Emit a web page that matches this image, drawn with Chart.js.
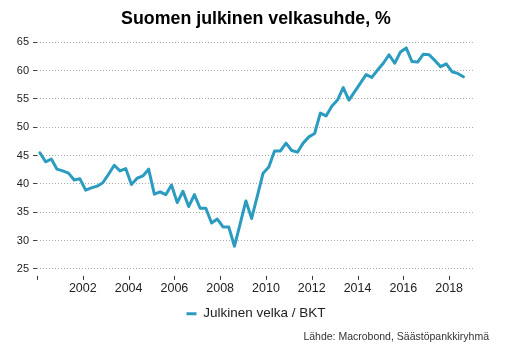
<!DOCTYPE html>
<html>
<head>
<meta charset="utf-8">
<script src="https://cdn.jsdelivr.net/npm/chart.js@4"></script>
<style>
  html, body { margin: 0; padding: 0; background: #fff; }
</style>
</head>
<body>
<canvas id="myChart" width="527" height="347"></canvas>
<script>
// julkinen velka / BKT, neljännesvuosittain 2000Q1 - 2018Q3
const firstYear = 2000;
const debtRatio = [
  45.5, 43.9, 44.4, 42.6, 42.3, 41.9, 40.7, 40.9,
  38.9, 39.3, 39.6, 40.2, 41.7, 43.3, 42.3, 42.7,
  39.9, 41.0, 41.4, 42.6, 38.2, 38.6, 38.1, 39.8,
  36.7, 38.7, 36.0, 38.1, 35.7, 35.7, 33.1, 33.8,
  32.4, 32.4, 29.0, 33.0, 37.0, 33.9, 37.9, 41.9,
  43.0, 45.8, 45.8, 47.2, 45.9, 45.6, 47.2, 48.3,
  48.9, 52.5, 52.0, 53.7, 54.8, 57.0, 54.8, 56.3,
  57.8, 59.3, 58.8, 60.1, 61.3, 62.8, 61.3, 63.3,
  64.0, 61.6, 61.5, 62.9, 62.8, 61.8, 60.7, 61.2,
  59.8, 59.5, 58.9
];
const labeledYears = [2002, 2004, 2006, 2008, 2010, 2012, 2014, 2016, 2018];
const chartTitle = 'Suomen julkinen velkasuhde, %';
const seriesName = 'Julkinen velka / BKT';
const sourceText = 'Lähde: Macrobond, Säästöpankkiryhmä';

const lineColor = '#2b9cc0';
const fontFamily = '"Liberation Sans", Arial, sans-serif';

Chart.defaults.font.family = fontFamily;
Chart.defaults.color = '#222';

const points = debtRatio.map(function (v, i) {
  return { x: firstYear + (i + 0.5) / 4, y: v };
});

// pienet pystymerkit x-akselin alle, irti kuva-alasta
const xTickMarks = {
  id: 'xTickMarks',
  afterDraw: function (chart) {
    var sx = chart.scales.x;
    var c = chart.ctx;
    var y0 = chart.chartArea.bottom + 7;
    c.save();
    c.strokeStyle = '#333';
    c.lineWidth = 1;
    sx.ticks.forEach(function (t) {
      var px = Math.round(sx.getPixelForValue(t.value)) + 0.5;
      c.beginPath();
      c.moveTo(px, y0);
      c.lineTo(px, y0 + 4);
      c.stroke();
    });
    c.restore();
  },
};

const ctx = document.getElementById('myChart');

new Chart(ctx, {
  type: 'line',
  data: {
    datasets: [
      {
        label: seriesName,
        data: points,
        borderColor: lineColor,
        backgroundColor: lineColor,
        borderWidth: 3,
        borderJoinStyle: 'round',
        borderCapStyle: 'round',
        pointRadius: 0,
        tension: 0,
      },
    ],
  },
  plugins: [xTickMarks],
  options: {
    responsive: false,
    animation: false,
    devicePixelRatio: 1,
    layout: { padding: { left: 0, right: 38, top: 0, bottom: 0 } },
    scales: {
      x: {
        type: 'linear',
        min: 2000,
        max: 2019.13,
        grid: {
          drawOnChartArea: false,
          drawTicks: true,
          tickLength: 11,
          tickColor: 'rgba(0,0,0,0)',
        },
        border: { display: false },
        ticks: {
          stepSize: 2,
          includeBounds: false,
          padding: 1,
          maxRotation: 0,
          autoSkip: false,
          font: { size: 12.5 },
          color: '#222',
          callback: function (v) {
            return labeledYears.indexOf(v) >= 0 ? String(v) : '';
          },
        },
      },
      y: {
        min: 25,
        max: 65,
        afterFit: function (s) { s.width = 37; },
        grid: {
          color: '#aaa',
          lineWidth: 1,
          tickLength: 4,
          tickColor: '#444',
        },
        border: { display: false, dash: [1, 2] },
        ticks: {
          stepSize: 5,
          padding: 4,
          font: { size: 11 },
          color: '#222',
        },
      },
      yRight: {
        position: 'right',
        afterFit: function (s) { s.width = 14; },
        grid: { display: false },
        border: { display: false },
        ticks: { display: false },
      },
    },
    plugins: {
      title: {
        display: true,
        text: chartTitle,
        fullSize: false,
        color: '#000',
        font: { size: 17.8, weight: 'bold' },
        padding: { top: 8, bottom: 12.9 },
      },
      subtitle: {
        display: true,
        text: sourceText,
        position: 'bottom',
        align: 'end',
        color: '#333',
        font: { size: 10.5 },
        padding: { top: 0, bottom: 4 },
      },
      legend: {
        position: 'bottom',
        fullSize: false,
        labels: {
          boxWidth: 10,
          boxHeight: 3,
          padding: 10,
          color: '#222',
          font: { size: 13.5 },
          generateLabels: function (chart) {
            var items = Chart.defaults.plugins.legend.labels.generateLabels(chart);
            items.forEach(function (it) {
              it.lineWidth = 0;
              it.fillStyle = lineColor;
              it.strokeStyle = lineColor;
            });
            return items;
          },
        },
      },
      tooltip: { enabled: false },
    },
  },
});
</script>
</body>
</html>
